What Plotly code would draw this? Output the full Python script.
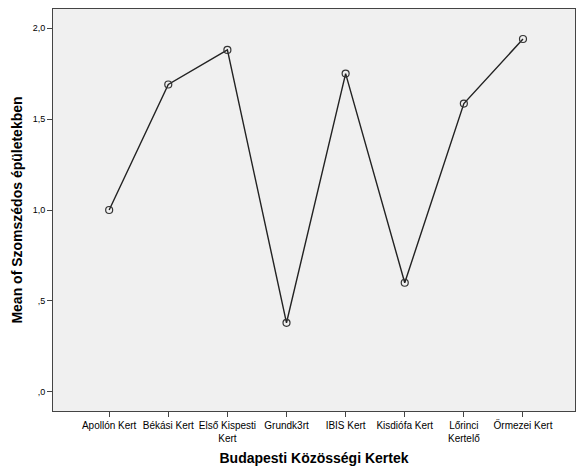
import plotly.graph_objects as go

categories = ["Apollón Kert", "Békási Kert", "Első Kispesti<br>Kert", "Grundk3rt",
              "IBIS Kert", "Kisdiófa Kert", "Lőrinci<br>Kertelő", "Őrmezei Kert"]
means = [1.0, 1.69, 1.88, 0.38, 1.75, 0.60, 1.585, 1.94]
ytick_vals = [0.0, 0.5, 1.0, 1.5, 2.0]
ytick_text = [",0", ",5", "1,0", "1,5", "2,0"]

x_idx = list(range(len(categories)))

fig = go.Figure()
fig.add_trace(go.Scatter(
    x=x_idx, y=means, mode="lines+markers",
    line=dict(color="#222222", width=1.4),
    marker=dict(symbol="circle-open", size=7, color="#333333", line=dict(width=1.2)),
    showlegend=False, hoverinfo="skip",
))

font_family = "Liberation Sans, Arial, sans-serif"
axis_col = "#444444"

fig.update_layout(
    width=576, height=468,
    margin=dict(l=53, r=1, t=9, b=57),
    paper_bgcolor="white", plot_bgcolor="#F0F0F0",
    font=dict(family=font_family, size=9, color="black"),
    xaxis=dict(
        range=[-0.95, 7.88], tickmode="array", tickvals=x_idx, ticktext=categories,
        showgrid=False, zeroline=False, showline=True, linecolor=axis_col, linewidth=1,
        mirror=True, ticks="outside", ticklen=5, tickcolor=axis_col,
        tickfont=dict(size=10, family=font_family), tickangle=0,
        title=dict(text="<b>Budapesti Közösségi Kertek</b>",
                   font=dict(size=14, family=font_family), standoff=10),
    ),
    yaxis=dict(
        range=[-0.105, 2.105], tickmode="array", tickvals=ytick_vals, ticktext=ytick_text,
        showgrid=False, zeroline=False, showline=True, linecolor=axis_col, linewidth=1,
        mirror=True, ticks="outside", ticklen=5, tickcolor=axis_col,
        tickfont=dict(size=9, family=font_family),
        title=dict(text="<b>Mean of Szomszédos épületekben</b>",
                   font=dict(size=14, family=font_family), standoff=6),
    ),
)

fig.write_html("out.html",
               config={"displayModeBar": False, "staticPlot": True},
               post_script="document.body.style.margin='0';document.body.style.overflow='hidden';")
